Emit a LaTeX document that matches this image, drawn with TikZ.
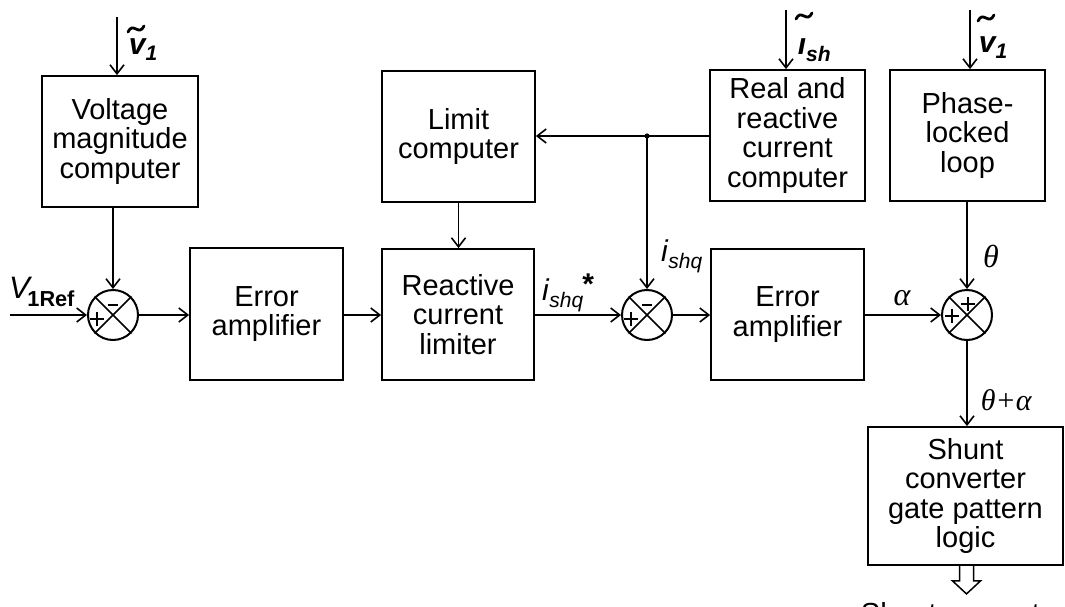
\documentclass[tikz,border=0pt]{standalone}
\usepackage{amsmath}
\usepackage{fontspec}
\setmainfont{Liberation Sans}
\newfontfamily\grk{Liberation Serif}
\usetikzlibrary{arrows.meta}
\begin{document}
\begin{tikzpicture}[x=1pt,y=-1pt,line width=1.8pt,
  blk/.style={draw,line width=1.8pt,align=center,font=\fontsize{29}{29.5}\selectfont,inner sep=0pt},
  sumj/.style={draw,circle,minimum size=50pt,inner sep=0pt,line width=2pt},
  arr/.style={-{Straight Barb[length=9pt,width=14pt,line width=1.6pt]}},
  lbl/.style={font=\fontsize{29}{29}\selectfont,inner sep=0pt},
  bl/.style={font=\fontsize{30}{30}\selectfont\bfseries\itshape,inner sep=0pt,anchor=base west},
  gl/.style={font=\fontsize{32}{32}\selectfont\grk\itshape,inner sep=0pt},
  tld/.style={line width=2.8pt,line cap=round},
  sgn/.style={line width=1.7pt}]
\useasboundingbox (0,0) rectangle (1065,607);
\clip (0,0) rectangle (1065,607);
% blocks
\node[blk,minimum width=156pt,minimum height=131pt] (vmc) at (120,141.5) {Voltage\\magnitude\\computer};
\node[blk,minimum width=153pt,minimum height=131pt] (lim) at (458.5,136.5) {Limit\\computer};
\node[blk,minimum width=155pt,minimum height=131pt] (rrc) at (787.5,135.5) {Real and\\reactive\\current\\computer};
\node[blk,minimum width=155pt,minimum height=131pt] (pll) at (967.5,135.5) {Phase-\\locked\\loop};
\node[blk,minimum width=153pt,minimum height=132pt] (ea1) at (266.5,314) {Error\\amplifier};
\node[blk,minimum width=152pt,minimum height=131pt] (rcl) at (458,314.5) {Reactive\\current\\limiter};
\node[blk,minimum width=153pt,minimum height=131pt] (ea2) at (787.5,314.5) {Error\\amplifier};
\node[blk,minimum width=195pt,minimum height=138pt] (sgl) at (965.5,496) {Shunt\\converter\\gate pattern\\logic};
% summing junctions
\node[sumj] (s1) at (113,315) {};
\node[sumj] (s2) at (647,315) {};
\node[sumj] (s3) at (967,315) {};
\foreach \s in {s1,s2,s3}{
  \draw[line width=1.6pt] (\s.north west) -- (\s.south east) (\s.north east) -- (\s.south west);
}
\draw[sgn] (s1.center) ++(-16,4) +(-7,0) -- +(7,0) +(0,-7) -- +(0,7);
\draw[sgn] (s1.center) ++(0,-10) +(-5,0) -- +(5,0);
\draw[sgn] (s2.center) ++(-16,4) +(-7,0) -- +(7,0) +(0,-7) -- +(0,7);
\draw[sgn] (s2.center) ++(0,-10) +(-5,0) -- +(5,0);
\draw[sgn] (s3.center) ++(-15,1) +(-7,0) -- +(7,0) +(0,-7) -- +(0,7);
\draw[sgn] (s3.center) ++(1,-11) +(-7,0) -- +(7,0) +(0,-7) -- +(0,7);
% inputs
\coordinate (in1) at (117,17);
\coordinate (in2) at (786,10);
\coordinate (in3) at (970,10);
\coordinate (vin) at (10,315);
\draw[arr] (in1) -- (in1 |- vmc.north);
\draw[arr] (in2) -- (in2 |- rrc.north);
\draw[arr] (in3) -- (in3 |- pll.north);
\draw[arr] (vin) -- (s1.west);
% connectors
\draw[arr] (s1 |- vmc.south) -- (s1.north);
\draw[arr] (s1.east) -- (s1.east -| ea1.west);
\draw[arr] (ea1.east |- s1) -- (rcl.west |- s1);
\draw[arr] (lim.south) -- (lim.south |- rcl.north);
\draw[arr] (rcl.east |- s2) -- (s2.west);
\coordinate (jn) at (647,136);
\draw[arr] (rrc.west |- jn) -- (lim.east |- jn);
\fill (jn) circle (2.6pt);
\draw[arr] (jn) -- (s2.north);
\draw[arr] (s2.east) -- (ea2.west |- s2);
\draw[arr] (ea2.east |- s3) -- (s3.west);
\draw[arr] (s3 |- pll.south) -- (s3.north);
\draw[arr] (s3.south) -- (s3 |- sgl.north);
% hollow output arrow
\draw[line width=1.5pt,line join=miter] (sgl.south) ++(-6,0) -- ++(0,15) -- ++(-7,0) -- ++(14,13) -- ++(14,-13) -- ++(-7,0) -- ++(0,-15);
% labels
\node[bl] (lv1) at (128,55) {v$_{\textbf{1}}$};
\draw[tld] (136,29) ++(-8,3) .. controls +(5,-11) and +(-5,11) .. ++(16,-6);
\node[bl] (lish) at (797,55) {\i$_{\textbf{\textit{sh}}}$};
\draw[tld] (804,16) ++(-8,3) .. controls +(5,-11) and +(-5,11) .. ++(16,-6);
\node[bl] (lv2) at (978,53) {v$_{\textbf{1}}$};
\draw[tld] (986,18) ++(-8,3) .. controls +(5,-11) and +(-5,11) .. ++(16,-6);
\node[lbl,font=\fontsize{31}{31}\selectfont] (lvref) at (42,292) {\textit{V}\kern-0.15em$_{\textbf{1Ref}}$};
\node[lbl,font=\fontsize{30}{30}\selectfont] (lstar) at (568,293) {\textit{i}$_{\textit{shq}}$\kern-0.05em\raisebox{0.2em}{\textbf{*}}};
\node[lbl,font=\fontsize{30}{30}\selectfont] (lq) at (682,256) {\textit{i}$_{\textit{shq}}$};
\node[gl] (lth) at (991,256) {θ};
\node[gl] (lal) at (902,298) {α};
\node[gl,font=\fontsize{30}{30}\selectfont\grk\itshape,anchor=west] (lta) at (980,400) {θ+α};
\node[lbl,anchor=base west] (lout) at (860,623) {Shunt converter};
\end{tikzpicture}
\end{document}
